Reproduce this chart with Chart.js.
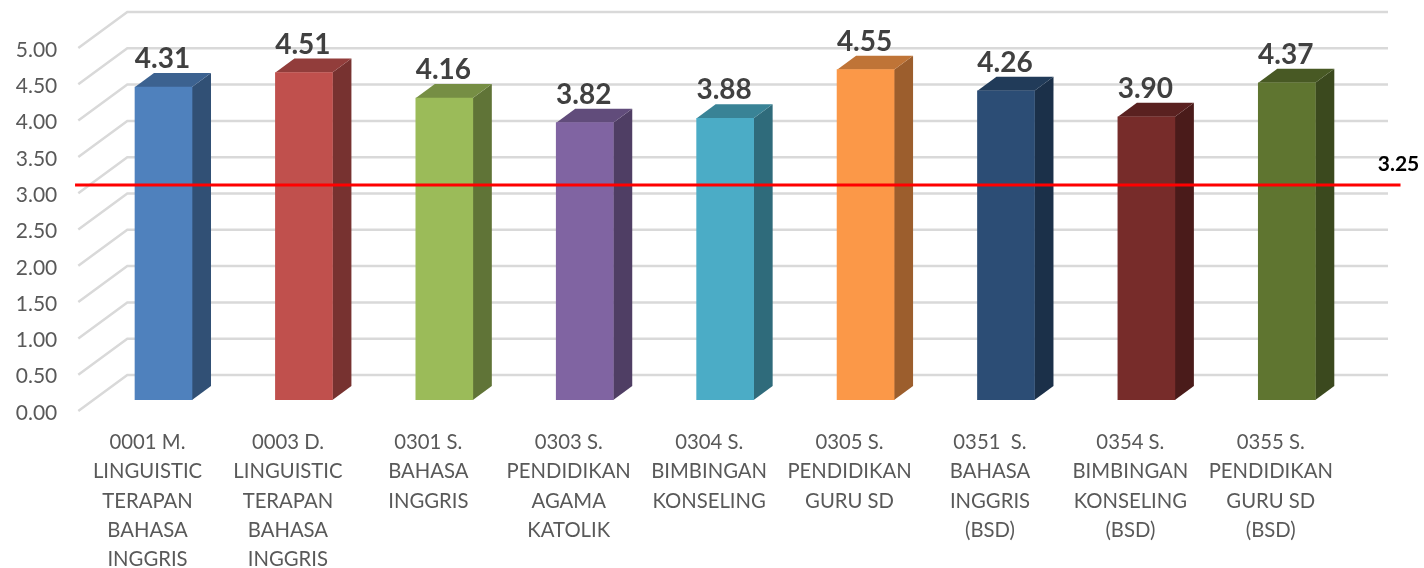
<!DOCTYPE html>
<html>
<head>
<meta charset="utf-8">
<title>Chart</title>
<script src="https://cdn.jsdelivr.net/npm/chart.js@4"></script>
<style>
    html, body { margin: 0; padding: 0; background: #ffffff; }
    canvas { display: block; }
</style>
</head>
<body>
<canvas id="scoreChart" width="1424" height="568"></canvas>
<script>
const categories = [
    ['0001 M.', 'LINGUISTIC', 'TERAPAN', 'BAHASA', 'INGGRIS'],
    ['0003 D.', 'LINGUISTIC', 'TERAPAN', 'BAHASA', 'INGGRIS'],
    ['0301 S.', 'BAHASA', 'INGGRIS'],
    ['0303 S.', 'PENDIDIKAN', 'AGAMA', 'KATOLIK'],
    ['0304 S.', 'BIMBINGAN', 'KONSELING'],
    ['0305 S.', 'PENDIDIKAN', 'GURU SD'],
    ['0351  S.', 'BAHASA', 'INGGRIS', '(BSD)'],
    ['0354 S.', 'BIMBINGAN', 'KONSELING', '(BSD)'],
    ['0355 S.', 'PENDIDIKAN', 'GURU SD', '(BSD)']
];
const scores = [4.31, 4.51, 4.16, 3.82, 3.88, 4.55, 4.26, 3.90, 4.37];
const barColors = ['#4F81BD', '#C0504D', '#9BBB59', '#8064A2', '#4BACC6', '#FB9848', '#2C4D75', '#772C2A', '#5F7530'];

// the red line sits lower than its label says, same as in the picture
const thresholdLabel = '3.25';
const thresholdX = [-0.63, 8.81];
const thresholdY = [2.96, 2.96];

const DEPTH_X = 19;
const DEPTH_Y = 14;

function shade(hex, factor) {
    const n = parseInt(hex.slice(1), 16);
    const r = Math.round((n >> 16 & 255) * factor);
    const g = Math.round((n >> 8 & 255) * factor);
    const b = Math.round((n & 255) * factor);
    return `rgb(${r},${g},${b})`;
}

function fillPoly(ctx, points, color) {
    ctx.beginPath();
    points.forEach((p, i) => i ? ctx.lineTo(p[0], p[1]) : ctx.moveTo(p[0], p[1]));
    ctx.closePath();
    ctx.fillStyle = color;
    ctx.fill();
}

// Excel style 3D: wall gridlines and the side/top faces of each bar
const depthPlugin = {
    id: 'depth',
    beforeDatasetsDraw(chart) {
        const { ctx, chartArea, scales } = chart;
        ctx.save();

        ctx.strokeStyle = '#D9D9D9';
        ctx.lineWidth = 2.5;
        scales.y.ticks.forEach(tick => {
            const y = scales.y.getPixelForValue(tick.value);
            ctx.beginPath();
            ctx.moveTo(chartArea.left - 15, y + 11);
            ctx.lineTo(chartArea.left + 34, y - 25);
            ctx.lineTo(chartArea.right + 31, y - 25);
            ctx.stroke();
        });

        chart.getDatasetMeta(1).data.forEach((bar, i) => {
            const left = bar.x - bar.width / 2;
            const right = bar.x + bar.width / 2;
            fillPoly(ctx, [
                [right, bar.y],
                [right + DEPTH_X, bar.y - DEPTH_Y],
                [right + DEPTH_X, bar.base - DEPTH_Y],
                [right, bar.base]
            ], shade(barColors[i], 0.62));
            fillPoly(ctx, [
                [left, bar.y],
                [left + DEPTH_X, bar.y - DEPTH_Y],
                [right + DEPTH_X, bar.y - DEPTH_Y],
                [right, bar.y]
            ], shade(barColors[i], 0.76));
        });
        ctx.restore();
    },
    afterDatasetsDraw(chart) {
        const { ctx, scales } = chart;
        ctx.save();
        ctx.textAlign = 'center';
        ctx.textBaseline = 'middle';

        ctx.font = 'bold 28px Lato';
        ctx.fillStyle = '#404040';
        chart.getDatasetMeta(1).data.forEach((bar, i) => {
            ctx.fillText(scores[i].toFixed(2), bar.x - 1, bar.y - 28);
        });

        ctx.font = 'bold 21px Lato';
        ctx.fillStyle = '#000000';
        ctx.fillText(thresholdLabel, scales.xLine.getPixelForValue(thresholdX[1]) - 2, scales.y.getPixelForValue(thresholdY[1]) - 21);
        ctx.restore();
    }
};

new Chart(document.getElementById('scoreChart').getContext('2d'), {
    data: {
        labels: categories,
        datasets: [
            {
                type: 'line',
                data: thresholdX.map((x, i) => ({ x: x, y: thresholdY[i] })),
                xAxisID: 'xLine',
                yAxisID: 'y',
                borderColor: '#FF0000',
                borderWidth: 3,
                pointRadius: 0,
                clip: false,
                order: 0
            },
            {
                type: 'bar',
                data: scores,
                xAxisID: 'x',
                yAxisID: 'y',
                backgroundColor: barColors,
                barThickness: 57,
                grouped: false,
                order: 1
            }
        ]
    },
    options: {
        responsive: false,
        animation: false,
        layout: { padding: { top: 37, right: 67, left: 0, bottom: 0 } },
        plugins: { legend: { display: false }, tooltip: { enabled: false } },
        scales: {
            x: {
                grid: { display: false },
                border: { display: false },
                afterFit: scale => { scale.height = 168; scale.paddingTop = 0; },
                ticks: {
                    autoSkip: false,
                    maxRotation: 0,
                    minRotation: 0,
                    padding: 20,
                    labelOffset: -16,
                    color: '#595959',
                    font: { family: 'Lato', size: 20.3, lineHeight: 1.44 }
                }
            },
            xLine: {
                type: 'linear',
                display: false,
                min: -0.5,
                max: 8.5
            },
            y: {
                min: 0,
                max: 5,
                grid: { display: false, drawTicks: false },
                border: { display: false },
                afterFit: scale => { scale.width = 93.3; scale.paddingTop = 0; scale.paddingBottom = 0; },
                ticks: {
                    stepSize: 0.5,
                    padding: 36,
                    labelOffset: 13,
                    color: '#595959',
                    font: { family: 'Lato', size: 21 },
                    callback: value => value.toFixed(2)
                }
            }
        }
    },
    plugins: [depthPlugin]
});
</script>
</body>
</html>
